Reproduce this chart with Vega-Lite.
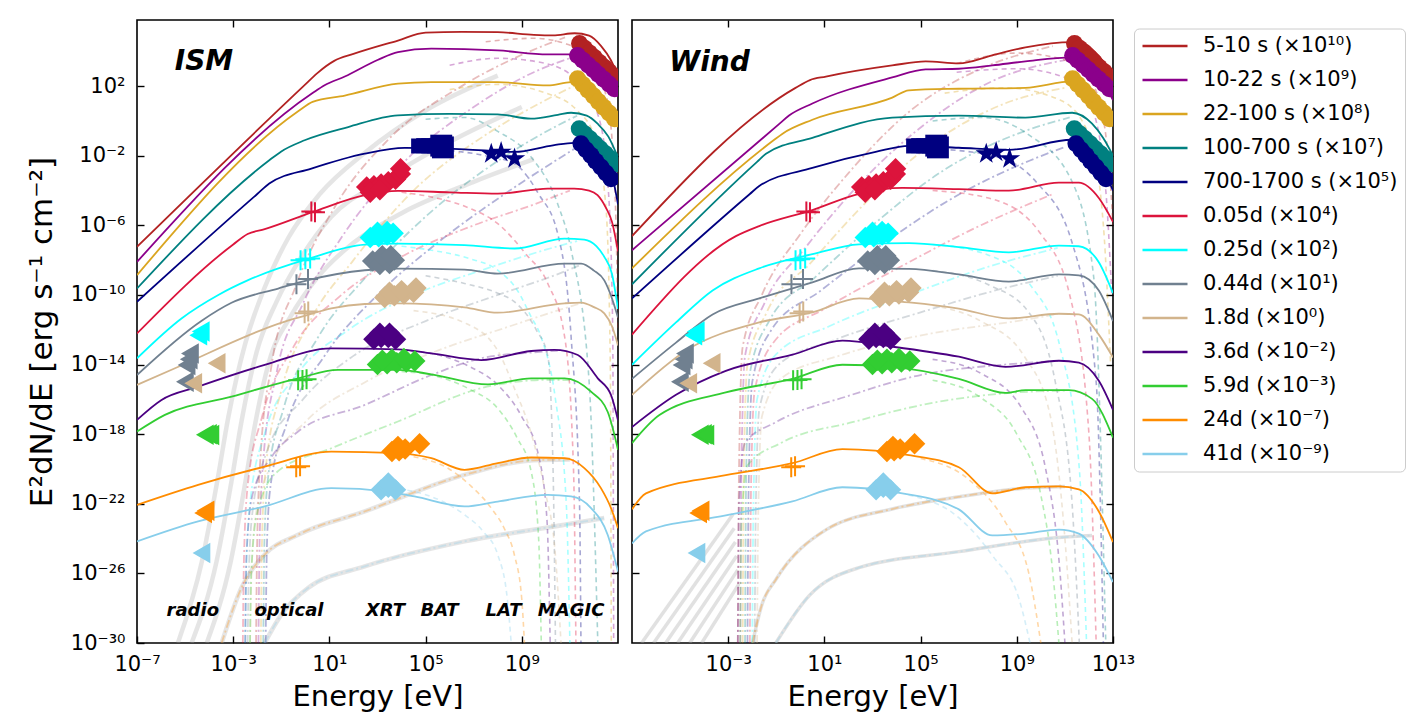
{
  "$schema": "https://vega.github.io/schema/vega-lite/v6.json",
  "background": "white",
  "padding": {"left": 25, "top": 18, "right": 0, "bottom": 0},
  "bounds": "flush",
  "spacing": 14,
  "config": {
    "font": "DejaVu Sans",
    "view": {"stroke": "black", "strokeWidth": 1.6},
    "axis": {"grid": false, "domain": false, "ticks": true, "tickSize": -7, "tickWidth": 1.4, "tickColor": "black",
      "labelFont": "DejaVu Sans", "labelFontSize": 21, "labelColor": "black", "labelFlush": false, "labelOverlap": false,
      "titleFont": "DejaVu Sans", "titleFontSize": 29, "titleFontWeight": "normal", "titleColor": "black"}
  },
  "datasets": {
    "ism_model": [
      {"epoch":"5-10 s","logE":-7,"logF":-7.23},{"epoch":"5-10 s","logE":0,"logF":2.1},{"epoch":"5-10 s","logE":0.5,"logF":2.75},{"epoch":"5-10 s","logE":1.2,"logF":3.45},{"epoch":"5-10 s","logE":2,"logF":3.85},{"epoch":"5-10 s","logE":3.85,"logF":4.62},{"epoch":"5-10 s","logE":5,"logF":5.08},{"epoch":"5-10 s","logE":6.5,"logF":5.12},{"epoch":"5-10 s","logE":8,"logF":5.1},{"epoch":"5-10 s","logE":9.5,"logF":4.95},{"epoch":"5-10 s","logE":10.3,"logF":4.92},{"epoch":"5-10 s","logE":11.2,"logF":5.04},{"epoch":"5-10 s","logE":11.8,"logF":4.9},{"epoch":"5-10 s","logE":12.3,"logF":4.3},{"epoch":"5-10 s","logE":12.7,"logF":3.5},{"epoch":"5-10 s","logE":13,"logF":2.6},
      {"epoch":"10-22 s","logE":-7,"logF":-8.1},{"epoch":"10-22 s","logE":0.3,"logF":1.6},{"epoch":"10-22 s","logE":0.8,"logF":2.05},{"epoch":"10-22 s","logE":1.64,"logF":2.55},{"epoch":"10-22 s","logE":3,"logF":3.5},{"epoch":"10-22 s","logE":3.85,"logF":3.96},{"epoch":"10-22 s","logE":5.24,"logF":4.15},{"epoch":"10-22 s","logE":8,"logF":4.05},{"epoch":"10-22 s","logE":10.08,"logF":3.82},{"epoch":"10-22 s","logE":11.05,"logF":3.82},{"epoch":"10-22 s","logE":11.8,"logF":3.6},{"epoch":"10-22 s","logE":12.3,"logF":3.0},{"epoch":"10-22 s","logE":12.7,"logF":2.2},{"epoch":"10-22 s","logE":13,"logF":1.5},
      {"epoch":"22-100 s","logE":-7,"logF":-8.86},{"epoch":"22-100 s","logE":-0.3,"logF":0.55},{"epoch":"22-100 s","logE":0.3,"logF":1.1},{"epoch":"22-100 s","logE":1.64,"logF":1.46},{"epoch":"22-100 s","logE":3.85,"logF":2.14},{"epoch":"22-100 s","logE":5.24,"logF":2.23},{"epoch":"22-100 s","logE":8,"logF":2.23},{"epoch":"22-100 s","logE":10.08,"logF":2.04},{"epoch":"22-100 s","logE":11.05,"logF":2.23},{"epoch":"22-100 s","logE":11.8,"logF":1.95},{"epoch":"22-100 s","logE":12.3,"logF":1.3},{"epoch":"22-100 s","logE":12.7,"logF":0.4},{"epoch":"22-100 s","logE":13,"logF":-0.35},
      {"epoch":"100-700 s","logE":-7,"logF":-9.63},{"epoch":"100-700 s","logE":-1.5,"logF":-2.26},{"epoch":"100-700 s","logE":-1,"logF":-1.75},{"epoch":"100-700 s","logE":-0.03,"logF":-1.11},{"epoch":"100-700 s","logE":1.78,"logF":-0.35},{"epoch":"100-700 s","logE":3.85,"logF":0.32},{"epoch":"100-700 s","logE":6,"logF":0.4},{"epoch":"100-700 s","logE":8,"logF":0.38},{"epoch":"100-700 s","logE":9.38,"logF":0.13},{"epoch":"100-700 s","logE":10.5,"logF":0.35},{"epoch":"100-700 s","logE":11.05,"logF":0.47},{"epoch":"100-700 s","logE":11.7,"logF":0.3},{"epoch":"100-700 s","logE":12.15,"logF":-0.16},{"epoch":"100-700 s","logE":12.6,"logF":-0.9},{"epoch":"100-700 s","logE":13,"logF":-2.1},
      {"epoch":"700-1700 s","logE":-7,"logF":-10.39},{"epoch":"700-1700 s","logE":-2,"logF":-4.2},{"epoch":"700-1700 s","logE":-1.5,"logF":-3.6},{"epoch":"700-1700 s","logE":0.25,"logF":-2.74},{"epoch":"700-1700 s","logE":2.47,"logF":-1.88},{"epoch":"700-1700 s","logE":4.13,"logF":-1.55},{"epoch":"700-1700 s","logE":6.62,"logF":-1.63},{"epoch":"700-1700 s","logE":8.7,"logF":-1.78},{"epoch":"700-1700 s","logE":10.3,"logF":-1.4},{"epoch":"700-1700 s","logE":11.18,"logF":-1.26},{"epoch":"700-1700 s","logE":11.8,"logF":-1.4},{"epoch":"700-1700 s","logE":12.15,"logF":-1.58},{"epoch":"700-1700 s","logE":12.5,"logF":-2.3},{"epoch":"700-1700 s","logE":12.75,"logF":-3.1},{"epoch":"700-1700 s","logE":13,"logF":-4.8},
      {"epoch":"0.05d","logE":-7,"logF":-12.21},{"epoch":"0.05d","logE":-3,"logF":-7.1},{"epoch":"0.05d","logE":-2.4,"logF":-6.5},{"epoch":"0.05d","logE":-1.69,"logF":-6.22},{"epoch":"0.05d","logE":0.32,"logF":-5.23},{"epoch":"0.05d","logE":2.47,"logF":-4.27},{"epoch":"0.05d","logE":3.85,"logF":-4.02},{"epoch":"0.05d","logE":6,"logF":-4.1},{"epoch":"0.05d","logE":8,"logF":-4.18},{"epoch":"0.05d","logE":10.08,"logF":-3.89},{"epoch":"0.05d","logE":11.18,"logF":-3.89},{"epoch":"0.05d","logE":11.8,"logF":-4.0},{"epoch":"0.05d","logE":12.15,"logF":-4.27},{"epoch":"0.05d","logE":12.5,"logF":-5.0},{"epoch":"0.05d","logE":12.75,"logF":-5.8},{"epoch":"0.05d","logE":13,"logF":-7.5},
      {"epoch":"0.25d","logE":-7,"logF":-13.64},{"epoch":"0.25d","logE":-5.15,"logF":-11.35},{"epoch":"0.25d","logE":-3.62,"logF":-10.0},{"epoch":"0.25d","logE":-2.38,"logF":-9.15},{"epoch":"0.25d","logE":0.04,"logF":-7.96},{"epoch":"0.25d","logE":2.47,"logF":-7.11},{"epoch":"0.25d","logE":3.85,"logF":-7.05},{"epoch":"0.25d","logE":6.62,"logF":-7.14},{"epoch":"0.25d","logE":8.7,"logF":-7.33},{"epoch":"0.25d","logE":10.78,"logF":-6.76},{"epoch":"0.25d","logE":11.6,"logF":-6.82},{"epoch":"0.25d","logE":12.1,"logF":-7.2},{"epoch":"0.25d","logE":12.43,"logF":-7.81},{"epoch":"0.25d","logE":12.75,"logF":-8.8},{"epoch":"0.25d","logE":13,"logF":-10.8},
      {"epoch":"0.44d","logE":-7,"logF":-14.6},{"epoch":"0.44d","logE":-4.31,"logF":-11.48},{"epoch":"0.44d","logE":-3.07,"logF":-10.45},{"epoch":"0.44d","logE":-1.13,"logF":-9.63},{"epoch":"0.44d","logE":0.11,"logF":-9.15},{"epoch":"0.44d","logE":2.47,"logF":-8.58},{"epoch":"0.44d","logE":3.85,"logF":-8.49},{"epoch":"0.44d","logE":6.62,"logF":-8.54},{"epoch":"0.44d","logE":8,"logF":-8.77},{"epoch":"0.44d","logE":10.78,"logF":-8.2},{"epoch":"0.44d","logE":11.47,"logF":-8.2},{"epoch":"0.44d","logE":12,"logF":-8.6},{"epoch":"0.44d","logE":12.43,"logF":-9.16},{"epoch":"0.44d","logE":12.75,"logF":-10.2},{"epoch":"0.44d","logE":13,"logF":-11.3},
      {"epoch":"1.8d","logE":-7,"logF":-15.17},{"epoch":"1.8d","logE":-5.42,"logF":-14.21},{"epoch":"1.8d","logE":-0.85,"logF":-11.53},{"epoch":"1.8d","logE":-0.03,"logF":-11.2},{"epoch":"1.8d","logE":1.08,"logF":-10.77},{"epoch":"1.8d","logE":2.47,"logF":-10.52},{"epoch":"1.8d","logE":3.85,"logF":-10.48},{"epoch":"1.8d","logE":6.62,"logF":-10.71},{"epoch":"1.8d","logE":8,"logF":-11.02},{"epoch":"1.8d","logE":10.78,"logF":-10.48},{"epoch":"1.8d","logE":11.47,"logF":-10.44},{"epoch":"1.8d","logE":12,"logF":-10.7},{"epoch":"1.8d","logE":12.43,"logF":-11.06},{"epoch":"1.8d","logE":12.75,"logF":-11.8},{"epoch":"1.8d","logE":13,"logF":-12.9},
      {"epoch":"3.6d","logE":-7,"logF":-17.18},{"epoch":"3.6d","logE":-5.98,"logF":-16.03},{"epoch":"3.6d","logE":-4.46,"logF":-15.27},{"epoch":"3.6d","logE":-1.69,"logF":-14.02},{"epoch":"3.6d","logE":1.08,"logF":-13.07},{"epoch":"3.6d","logE":3.85,"logF":-13.13},{"epoch":"3.6d","logE":5.24,"logF":-13.36},{"epoch":"3.6d","logE":7.31,"logF":-13.74},{"epoch":"3.6d","logE":9.39,"logF":-13.22},{"epoch":"3.6d","logE":10.36,"logF":-13.16},{"epoch":"3.6d","logE":11.33,"logF":-13.45},{"epoch":"3.6d","logE":12.16,"logF":-14.79},{"epoch":"3.6d","logE":12.71,"logF":-15.75},{"epoch":"3.6d","logE":13,"logF":-17.2},
      {"epoch":"5.9d","logE":-7,"logF":-17.85},{"epoch":"5.9d","logE":-5.84,"logF":-16.89},{"epoch":"5.9d","logE":-3.07,"logF":-15.84},{"epoch":"5.9d","logE":-0.3,"logF":-14.79},{"epoch":"5.9d","logE":1.36,"logF":-14.31},{"epoch":"5.9d","logE":3.85,"logF":-14.31},{"epoch":"5.9d","logE":5.24,"logF":-14.56},{"epoch":"5.9d","logE":7.59,"logF":-15.14},{"epoch":"5.9d","logE":9.39,"logF":-14.79},{"epoch":"5.9d","logE":10.78,"logF":-14.79},{"epoch":"5.9d","logE":11.88,"logF":-15.56},{"epoch":"5.9d","logE":12.57,"logF":-16.71},{"epoch":"5.9d","logE":13,"logF":-18.9},
      {"epoch":"24d","logE":-7,"logF":-22.06},{"epoch":"24d","logE":-4.46,"logF":-20.91},{"epoch":"24d","logE":-1.69,"logF":-19.86},{"epoch":"24d","logE":1.08,"logF":-19.0},{"epoch":"24d","logE":3.85,"logF":-19.09},{"epoch":"24d","logE":5.24,"logF":-19.38},{"epoch":"24d","logE":6.62,"logF":-20.05},{"epoch":"24d","logE":8,"logF":-19.66},{"epoch":"24d","logE":9.39,"logF":-19.34},{"epoch":"24d","logE":10.78,"logF":-19.38},{"epoch":"24d","logE":11.6,"logF":-19.95},{"epoch":"24d","logE":12.29,"logF":-21.1},{"epoch":"24d","logE":12.71,"logF":-22.25},{"epoch":"24d","logE":13,"logF":-23.4},
      {"epoch":"41d","logE":-7,"logF":-24.16},{"epoch":"41d","logE":-4.46,"logF":-23.01},{"epoch":"41d","logE":-1.69,"logF":-22.15},{"epoch":"41d","logE":1.08,"logF":-21.1},{"epoch":"41d","logE":3.43,"logF":-21.3},{"epoch":"41d","logE":4.54,"logF":-21.58},{"epoch":"41d","logE":6.62,"logF":-22.15},{"epoch":"41d","logE":8,"logF":-21.87},{"epoch":"41d","logE":10.08,"logF":-21.49},{"epoch":"41d","logE":11.05,"logF":-21.58},{"epoch":"41d","logE":11.88,"logF":-22.25},{"epoch":"41d","logE":12.57,"logF":-23.78},{"epoch":"41d","logE":13,"logF":-25.9}
    ],
    "wind_model": [
      {"epoch":"5-10 s","logE":-7,"logF":-6.62},{"epoch":"5-10 s","logE":-0.2,"logF":1.9},{"epoch":"5-10 s","logE":0.4,"logF":2.35},{"epoch":"5-10 s","logE":1.06,"logF":2.55},{"epoch":"5-10 s","logE":3.82,"logF":3.19},{"epoch":"5-10 s","logE":5.21,"logF":3.42},{"epoch":"5-10 s","logE":6.59,"logF":3.31},{"epoch":"5-10 s","logE":7.98,"logF":3.77},{"epoch":"5-10 s","logE":9.36,"logF":4.23},{"epoch":"5-10 s","logE":11.3,"logF":4.53},{"epoch":"5-10 s","logE":11.8,"logF":4.45},{"epoch":"5-10 s","logE":12.13,"logF":4.12},{"epoch":"5-10 s","logE":12.6,"logF":3.4},{"epoch":"5-10 s","logE":13,"logF":2.4},
      {"epoch":"10-22 s","logE":-7,"logF":-7.43},{"epoch":"10-22 s","logE":-0.9,"logF":-0.2},{"epoch":"10-22 s","logE":-0.47,"logF":0.31},{"epoch":"10-22 s","logE":0.5,"logF":1.0},{"epoch":"10-22 s","logE":3.82,"logF":2.5},{"epoch":"10-22 s","logE":5.21,"logF":2.96},{"epoch":"10-22 s","logE":6.59,"logF":3.0},{"epoch":"10-22 s","logE":7.98,"logF":3.19},{"epoch":"10-22 s","logE":9.36,"logF":3.42},{"epoch":"10-22 s","logE":11.3,"logF":3.65},{"epoch":"10-22 s","logE":12.13,"logF":2.96},{"epoch":"10-22 s","logE":12.6,"logF":2.2},{"epoch":"10-22 s","logE":13,"logF":1.2},
      {"epoch":"22-100 s","logE":-7,"logF":-8.47},{"epoch":"22-100 s","logE":-1.1,"logF":-1.1},{"epoch":"22-100 s","logE":-0.74,"logF":-0.73},{"epoch":"22-100 s","logE":0.5,"logF":0.07},{"epoch":"22-100 s","logE":3.82,"logF":1.34},{"epoch":"22-100 s","logE":4.51,"logF":1.76},{"epoch":"22-100 s","logE":6.59,"logF":1.85},{"epoch":"22-100 s","logE":9.36,"logF":1.9},{"epoch":"22-100 s","logE":11.3,"logF":2.27},{"epoch":"22-100 s","logE":12.13,"logF":1.58},{"epoch":"22-100 s","logE":12.6,"logF":0.8},{"epoch":"22-100 s","logE":13,"logF":-0.2},
      {"epoch":"100-700 s","logE":-7,"logF":-9.39},{"epoch":"100-700 s","logE":-1.8,"logF":-2.35},{"epoch":"100-700 s","logE":-1.43,"logF":-1.89},{"epoch":"100-700 s","logE":0.5,"logF":-0.97},{"epoch":"100-700 s","logE":3.82,"logF":0.19},{"epoch":"100-700 s","logE":6.59,"logF":0.3},{"epoch":"100-700 s","logE":9.36,"logF":0.19},{"epoch":"100-700 s","logE":11.3,"logF":0.47},{"epoch":"100-700 s","logE":12.13,"logF":-0.16},{"epoch":"100-700 s","logE":12.6,"logF":-1.0},{"epoch":"100-700 s","logE":13,"logF":-2.0},
      {"epoch":"700-1700 s","logE":-7,"logF":-10.2},{"epoch":"700-1700 s","logE":-2.1,"logF":-4.2},{"epoch":"700-1700 s","logE":-1.71,"logF":-3.74},{"epoch":"700-1700 s","logE":0.5,"logF":-2.7},{"epoch":"700-1700 s","logE":3.13,"logF":-1.78},{"epoch":"700-1700 s","logE":4.52,"logF":-1.43},{"epoch":"700-1700 s","logE":6.59,"logF":-1.54},{"epoch":"700-1700 s","logE":8.67,"logF":-1.66},{"epoch":"700-1700 s","logE":11.3,"logF":-1.08},{"epoch":"700-1700 s","logE":12.13,"logF":-1.66},{"epoch":"700-1700 s","logE":12.6,"logF":-2.8},{"epoch":"700-1700 s","logE":13,"logF":-4.0},
      {"epoch":"0.05d","logE":-7,"logF":-12.28},{"epoch":"0.05d","logE":-2.68,"logF":-6.62},{"epoch":"0.05d","logE":-1.71,"logF":-6.04},{"epoch":"0.05d","logE":0.5,"logF":-5.12},{"epoch":"0.05d","logE":2.44,"logF":-4.19},{"epoch":"0.05d","logE":4.24,"logF":-3.85},{"epoch":"0.05d","logE":6.59,"logF":-3.92},{"epoch":"0.05d","logE":8.67,"logF":-4.01},{"epoch":"0.05d","logE":10.75,"logF":-3.55},{"epoch":"0.05d","logE":11.58,"logF":-3.55},{"epoch":"0.05d","logE":12.41,"logF":-4.43},{"epoch":"0.05d","logE":13,"logF":-5.8},
      {"epoch":"0.25d","logE":-7,"logF":-14.01},{"epoch":"0.25d","logE":-5.17,"logF":-11.58},{"epoch":"0.25d","logE":-3.65,"logF":-9.74},{"epoch":"0.25d","logE":-1.71,"logF":-8.47},{"epoch":"0.25d","logE":0.5,"logF":-7.66},{"epoch":"0.25d","logE":2.44,"logF":-7.09},{"epoch":"0.25d","logE":4.52,"logF":-7.02},{"epoch":"0.25d","logE":6.59,"logF":-7.25},{"epoch":"0.25d","logE":8.67,"logF":-7.55},{"epoch":"0.25d","logE":10.75,"logF":-7.16},{"epoch":"0.25d","logE":11.58,"logF":-7.2},{"epoch":"0.25d","logE":12.41,"logF":-8.12},{"epoch":"0.25d","logE":13,"logF":-9.9},
      {"epoch":"0.44d","logE":-7,"logF":-14.82},{"epoch":"0.44d","logE":-5.17,"logF":-12.74},{"epoch":"0.44d","logE":-3.65,"logF":-11.12},{"epoch":"0.44d","logE":-1.71,"logF":-10.2},{"epoch":"0.44d","logE":0.5,"logF":-9.28},{"epoch":"0.44d","logE":2.44,"logF":-8.47},{"epoch":"0.44d","logE":4.52,"logF":-8.5},{"epoch":"0.44d","logE":6.59,"logF":-8.82},{"epoch":"0.44d","logE":8.67,"logF":-9.23},{"epoch":"0.44d","logE":10.75,"logF":-8.82},{"epoch":"0.44d","logE":11.58,"logF":-8.87},{"epoch":"0.44d","logE":12.41,"logF":-9.74},{"epoch":"0.44d","logE":13,"logF":-11.5},
      {"epoch":"1.8d","logE":-7,"logF":-15.74},{"epoch":"1.8d","logE":-4.76,"logF":-13.2},{"epoch":"1.8d","logE":-1.71,"logF":-11.58},{"epoch":"1.8d","logE":0.5,"logF":-11.0},{"epoch":"1.8d","logE":2.44,"logF":-10.2},{"epoch":"1.8d","logE":4.52,"logF":-10.43},{"epoch":"1.8d","logE":6.59,"logF":-10.78},{"epoch":"1.8d","logE":8.67,"logF":-11.35},{"epoch":"1.8d","logE":10.75,"logF":-11.08},{"epoch":"1.8d","logE":11.58,"logF":-11.12},{"epoch":"1.8d","logE":12.41,"logF":-12.28},{"epoch":"1.8d","logE":13,"logF":-13.6},
      {"epoch":"3.6d","logE":-7,"logF":-17.59},{"epoch":"3.6d","logE":-5.17,"logF":-15.74},{"epoch":"3.6d","logE":-3.1,"logF":-14.36},{"epoch":"3.6d","logE":-0.33,"logF":-13.43},{"epoch":"3.6d","logE":1.75,"logF":-12.63},{"epoch":"3.6d","logE":3.82,"logF":-12.97},{"epoch":"3.6d","logE":6.59,"logF":-13.55},{"epoch":"3.6d","logE":8.53,"logF":-14.13},{"epoch":"3.6d","logE":10.75,"logF":-13.78},{"epoch":"3.6d","logE":11.58,"logF":-13.89},{"epoch":"3.6d","logE":12.41,"logF":-14.93},{"epoch":"3.6d","logE":13,"logF":-16.6},
      {"epoch":"5.9d","logE":-7,"logF":-18.51},{"epoch":"5.9d","logE":-5.86,"logF":-16.9},{"epoch":"5.9d","logE":-3.1,"logF":-15.6},{"epoch":"5.9d","logE":-0.33,"logF":-14.82},{"epoch":"5.9d","logE":1.75,"logF":-14.01},{"epoch":"5.9d","logE":3.82,"logF":-14.13},{"epoch":"5.9d","logE":6.59,"logF":-14.82},{"epoch":"5.9d","logE":8.53,"logF":-15.63},{"epoch":"5.9d","logE":9.36,"logF":-15.47},{"epoch":"5.9d","logE":11.16,"logF":-15.47},{"epoch":"5.9d","logE":12.13,"logF":-15.97},{"epoch":"5.9d","logE":13,"logF":-18.2},
      {"epoch":"24d","logE":-7,"logF":-22.32},{"epoch":"24d","logE":-6.42,"logF":-21.4},{"epoch":"24d","logE":-3.1,"logF":-20.36},{"epoch":"24d","logE":-0.33,"logF":-19.67},{"epoch":"24d","logE":1.75,"logF":-18.86},{"epoch":"24d","logE":4.52,"logF":-19.21},{"epoch":"24d","logE":6.59,"logF":-19.9},{"epoch":"24d","logE":7.98,"logF":-21.4},{"epoch":"24d","logE":9.36,"logF":-21.05},{"epoch":"24d","logE":10.75,"logF":-21.0},{"epoch":"24d","logE":11.58,"logF":-21.17},{"epoch":"24d","logE":12.41,"logF":-22.44},{"epoch":"24d","logE":13,"logF":-24.2},
      {"epoch":"41d","logE":-7,"logF":-24.28},{"epoch":"41d","logE":-6.42,"logF":-23.59},{"epoch":"41d","logE":-3.1,"logF":-22.67},{"epoch":"41d","logE":-0.33,"logF":-21.86},{"epoch":"41d","logE":1.75,"logF":-21.05},{"epoch":"41d","logE":4.24,"logF":-21.4},{"epoch":"41d","logE":6.59,"logF":-22.32},{"epoch":"41d","logE":7.98,"logF":-23.82},{"epoch":"41d","logE":9.36,"logF":-23.71},{"epoch":"41d","logE":10.75,"logF":-23.48},{"epoch":"41d","logE":11.58,"logF":-23.71},{"epoch":"41d","logE":12.41,"logF":-24.98},{"epoch":"41d","logE":13,"logF":-26.5}
    ],
    "ism_sync": [
      {"epoch":"5-10 s","logE":-2.05,"logF":-30},{"epoch":"5-10 s","logE":-2,"logF":-24},{"epoch":"5-10 s","logE":-1.85,"logF":-19},{"epoch":"5-10 s","logE":-1.4,"logF":-14},{"epoch":"5-10 s","logE":-0.4,"logF":-9.5},{"epoch":"5-10 s","logE":1.2,"logF":-5},{"epoch":"5-10 s","logE":3.5,"logF":-1},{"epoch":"5-10 s","logE":6.5,"logF":2},{"epoch":"5-10 s","logE":9,"logF":3.8},{"epoch":"5-10 s","logE":10.8,"logF":4.8},
      {"epoch":"10-22 s","logE":-1.95,"logF":-30},{"epoch":"10-22 s","logE":-1.9,"logF":-24},{"epoch":"10-22 s","logE":-1.75,"logF":-19.5},{"epoch":"10-22 s","logE":-1.2,"logF":-14.5},{"epoch":"10-22 s","logE":-0.1,"logF":-10.5},{"epoch":"10-22 s","logE":1.6,"logF":-6.5},{"epoch":"10-22 s","logE":4,"logF":-2.5},{"epoch":"10-22 s","logE":7,"logF":0.8},{"epoch":"10-22 s","logE":9.5,"logF":2.8},{"epoch":"10-22 s","logE":11.2,"logF":3.7},
      {"epoch":"22-100 s","logE":-1.85,"logF":-30},{"epoch":"22-100 s","logE":-1.8,"logF":-24},{"epoch":"22-100 s","logE":-1.65,"logF":-20},{"epoch":"22-100 s","logE":-1,"logF":-15.5},{"epoch":"22-100 s","logE":0.2,"logF":-11.5},{"epoch":"22-100 s","logE":2,"logF":-8},{"epoch":"22-100 s","logE":4.5,"logF":-4},{"epoch":"22-100 s","logE":7.5,"logF":-0.8},{"epoch":"22-100 s","logE":10,"logF":1.2},{"epoch":"22-100 s","logE":11.3,"logF":2.1},
      {"epoch":"100-700 s","logE":-1.75,"logF":-30},{"epoch":"100-700 s","logE":-1.7,"logF":-24},{"epoch":"100-700 s","logE":-1.55,"logF":-20.5},{"epoch":"100-700 s","logE":-0.9,"logF":-16.5},{"epoch":"100-700 s","logE":0.5,"logF":-12.5},{"epoch":"100-700 s","logE":2.5,"logF":-9},{"epoch":"100-700 s","logE":5,"logF":-5.5},{"epoch":"100-700 s","logE":8,"logF":-2.3},{"epoch":"100-700 s","logE":10.3,"logF":-0.4},{"epoch":"100-700 s","logE":11.3,"logF":0.3},
      {"epoch":"700-1700 s","logE":-1.65,"logF":-30},{"epoch":"700-1700 s","logE":-1.6,"logF":-24.5},{"epoch":"700-1700 s","logE":-1.45,"logF":-21},{"epoch":"700-1700 s","logE":-0.8,"logF":-17.5},{"epoch":"700-1700 s","logE":0.8,"logF":-13.5},{"epoch":"700-1700 s","logE":3,"logF":-10},{"epoch":"700-1700 s","logE":5.5,"logF":-7},{"epoch":"700-1700 s","logE":8.5,"logF":-4},{"epoch":"700-1700 s","logE":10.5,"logF":-2.2},{"epoch":"700-1700 s","logE":11.3,"logF":-1.5},
      {"epoch":"0.05d","logE":-2.6,"logF":-30},{"epoch":"0.05d","logE":-2.55,"logF":-25},{"epoch":"0.05d","logE":-2.4,"logF":-21},{"epoch":"0.05d","logE":-1.8,"logF":-17},{"epoch":"0.05d","logE":-0.5,"logF":-13},{"epoch":"0.05d","logE":1.5,"logF":-10},{"epoch":"0.05d","logE":4,"logF":-7.8},{"epoch":"0.05d","logE":7,"logF":-6},{"epoch":"0.05d","logE":9.5,"logF":-4.8},{"epoch":"0.05d","logE":11,"logF":-4},
      {"epoch":"0.25d","logE":-2.5,"logF":-30},{"epoch":"0.25d","logE":-2.45,"logF":-25.5},{"epoch":"0.25d","logE":-2.3,"logF":-22},{"epoch":"0.25d","logE":-1.7,"logF":-18},{"epoch":"0.25d","logE":-0.3,"logF":-14.5},{"epoch":"0.25d","logE":1.8,"logF":-12},{"epoch":"0.25d","logE":4.5,"logF":-10},{"epoch":"0.25d","logE":7.5,"logF":-8.5},{"epoch":"0.25d","logE":10,"logF":-7.4},{"epoch":"0.25d","logE":11.3,"logF":-6.9},
      {"epoch":"0.44d","logE":-2.4,"logF":-30},{"epoch":"0.44d","logE":-2.35,"logF":-26},{"epoch":"0.44d","logE":-2.2,"logF":-22.5},{"epoch":"0.44d","logE":-1.6,"logF":-19},{"epoch":"0.44d","logE":-0.1,"logF":-16},{"epoch":"0.44d","logE":2,"logF":-13.5},{"epoch":"0.44d","logE":5,"logF":-11.5},{"epoch":"0.44d","logE":8,"logF":-10},{"epoch":"0.44d","logE":10.5,"logF":-8.8},{"epoch":"0.44d","logE":11.4,"logF":-8.3},
      {"epoch":"1.8d","logE":-2.3,"logF":-30},{"epoch":"1.8d","logE":-2.25,"logF":-26.5},{"epoch":"1.8d","logE":-2.1,"logF":-23},{"epoch":"1.8d","logE":-1.5,"logF":-20},{"epoch":"1.8d","logE":0,"logF":-17.3},{"epoch":"1.8d","logE":2.5,"logF":-15},{"epoch":"1.8d","logE":5.5,"logF":-13.2},{"epoch":"1.8d","logE":8.5,"logF":-11.8},{"epoch":"1.8d","logE":10.7,"logF":-10.8},{"epoch":"1.8d","logE":11.4,"logF":-10.5},
      {"epoch":"3.6d","logE":-2.5,"logF":-30},{"epoch":"3.6d","logE":-2.45,"logF":-25},{"epoch":"3.6d","logE":-2.2,"logF":-21.5},{"epoch":"3.6d","logE":-1.4,"logF":-19.3},{"epoch":"3.6d","logE":-0.3,"logF":-17.85},{"epoch":"3.6d","logE":2.47,"logF":-16.32},{"epoch":"3.6d","logE":5.24,"logF":-14.6},{"epoch":"3.6d","logE":7.31,"logF":-13.64},{"epoch":"3.6d","logE":9.5,"logF":-13.3},{"epoch":"3.6d","logE":10.5,"logF":-13.2},
      {"epoch":"5.9d","logE":-2.3,"logF":-30},{"epoch":"5.9d","logE":-2.25,"logF":-26},{"epoch":"5.9d","logE":-2,"logF":-22.5},{"epoch":"5.9d","logE":-1.2,"logF":-20.2},{"epoch":"5.9d","logE":1.08,"logF":-18.81},{"epoch":"5.9d","logE":3.85,"logF":-17.27},{"epoch":"5.9d","logE":7.31,"logF":-15.36},{"epoch":"5.9d","logE":10.08,"logF":-14.88},{"epoch":"5.9d","logE":11,"logF":-14.9},
      {"epoch":"24d","logE":-3.48,"logF":-30},{"epoch":"24d","logE":-2.66,"logF":-26.84},{"epoch":"24d","logE":-1.69,"logF":-24.92},{"epoch":"24d","logE":-0.3,"logF":-23.78},{"epoch":"24d","logE":2.47,"logF":-22.44},{"epoch":"24d","logE":6.62,"logF":-20.34},{"epoch":"24d","logE":9.5,"logF":-19.5},{"epoch":"24d","logE":11,"logF":-19.45},
      {"epoch":"41d","logE":-1.69,"logF":-30},{"epoch":"41d","logE":-1,"logF":-28.37},{"epoch":"41d","logE":0.11,"logF":-26.84},{"epoch":"41d","logE":2.47,"logF":-25.6},{"epoch":"41d","logE":6.62,"logF":-24.16},{"epoch":"41d","logE":10.78,"logF":-23.21},{"epoch":"41d","logE":12.43,"logF":-22.82}
    ],
    "ism_ssc": [
      {"epoch":"5-10 s","logE":7.5,"logF":4.55},{"epoch":"5-10 s","logE":9.5,"logF":4.75},{"epoch":"5-10 s","logE":10.8,"logF":4.45},{"epoch":"5-10 s","logE":11.8,"logF":3.6},{"epoch":"5-10 s","logE":12.4,"logF":2},{"epoch":"5-10 s","logE":12.75,"logF":-1},{"epoch":"5-10 s","logE":12.95,"logF":-8},{"epoch":"5-10 s","logE":13,"logF":-12},
      {"epoch":"10-22 s","logE":6,"logF":3.2},{"epoch":"10-22 s","logE":8,"logF":3.6},{"epoch":"10-22 s","logE":10,"logF":3.3},{"epoch":"10-22 s","logE":11.3,"logF":2.3},{"epoch":"10-22 s","logE":12.2,"logF":0.2},{"epoch":"10-22 s","logE":12.6,"logF":-4},{"epoch":"10-22 s","logE":12.78,"logF":-12},{"epoch":"10-22 s","logE":12.82,"logF":-30},
      {"epoch":"22-100 s","logE":6,"logF":1.8},{"epoch":"22-100 s","logE":8,"logF":2.1},{"epoch":"22-100 s","logE":10,"logF":1.6},{"epoch":"22-100 s","logE":11.3,"logF":0.6},{"epoch":"22-100 s","logE":12,"logF":-0.8},{"epoch":"22-100 s","logE":12.5,"logF":-5},{"epoch":"22-100 s","logE":12.68,"logF":-14},{"epoch":"22-100 s","logE":12.72,"logF":-30},
      {"epoch":"100-700 s","logE":5,"logF":0.1},{"epoch":"100-700 s","logE":6.6,"logF":0.2},{"epoch":"100-700 s","logE":8,"logF":-0.6},{"epoch":"100-700 s","logE":9.39,"logF":-2.08},{"epoch":"100-700 s","logE":10.5,"logF":-4.8},{"epoch":"100-700 s","logE":11.05,"logF":-7.4},{"epoch":"100-700 s","logE":11.8,"logF":-15},{"epoch":"100-700 s","logE":12.16,"logF":-30},
      {"epoch":"700-1700 s","logE":6,"logF":-1.7},{"epoch":"700-1700 s","logE":7.5,"logF":-2},{"epoch":"700-1700 s","logE":8.69,"logF":-2.45},{"epoch":"700-1700 s","logE":9.7,"logF":-4.2},{"epoch":"700-1700 s","logE":10.49,"logF":-6.47},{"epoch":"700-1700 s","logE":11.05,"logF":-12.4},{"epoch":"700-1700 s","logE":11.4,"logF":-22},{"epoch":"700-1700 s","logE":11.46,"logF":-30},
      {"epoch":"0.05d","logE":4,"logF":-4.1},{"epoch":"0.05d","logE":5.24,"logF":-4.37},{"epoch":"0.05d","logE":6.8,"logF":-5},{"epoch":"0.05d","logE":8,"logF":-5.9},{"epoch":"0.05d","logE":9.2,"logF":-7.7},{"epoch":"0.05d","logE":10.08,"logF":-9.34},{"epoch":"0.05d","logE":10.78,"logF":-12.4},{"epoch":"0.05d","logE":11.15,"logF":-20},{"epoch":"0.05d","logE":11.25,"logF":-30},
      {"epoch":"0.25d","logE":4,"logF":-7.2},{"epoch":"0.25d","logE":5.24,"logF":-7.43},{"epoch":"0.25d","logE":6.8,"logF":-7.9},{"epoch":"0.25d","logE":8,"logF":-8.58},{"epoch":"0.25d","logE":8.8,"logF":-9.7},{"epoch":"0.25d","logE":9.39,"logF":-11.26},{"epoch":"0.25d","logE":9.8,"logF":-12.4},{"epoch":"0.25d","logE":10.4,"logF":-16},{"epoch":"0.25d","logE":10.85,"logF":-22},{"epoch":"0.25d","logE":11,"logF":-30},
      {"epoch":"0.44d","logE":5,"logF":-8.9},{"epoch":"0.44d","logE":6.62,"logF":-9.34},{"epoch":"0.44d","logE":8,"logF":-9.9},{"epoch":"0.44d","logE":8.7,"logF":-10.4},{"epoch":"0.44d","logE":9.6,"logF":-12},{"epoch":"0.44d","logE":10.08,"logF":-13.5},{"epoch":"0.44d","logE":10.3,"logF":-20},{"epoch":"0.44d","logE":10.4,"logF":-30},
      {"epoch":"1.8d","logE":4.5,"logF":-10.9},{"epoch":"1.8d","logE":6.62,"logF":-11.6},{"epoch":"1.8d","logE":8,"logF":-13.2},{"epoch":"1.8d","logE":8.69,"logF":-15.36},{"epoch":"1.8d","logE":9.4,"logF":-18},{"epoch":"1.8d","logE":9.94,"logF":-21.1},{"epoch":"1.8d","logE":10.4,"logF":-25},{"epoch":"1.8d","logE":10.63,"logF":-30},
      {"epoch":"3.6d","logE":4,"logF":-13.2},{"epoch":"3.6d","logE":5.24,"logF":-13.36},{"epoch":"3.6d","logE":6.8,"logF":-14.1},{"epoch":"3.6d","logE":8,"logF":-15.17},{"epoch":"3.6d","logE":9,"logF":-17},{"epoch":"3.6d","logE":9.69,"logF":-19.19},{"epoch":"3.6d","logE":10.05,"logF":-23},{"epoch":"3.6d","logE":10.18,"logF":-30},
      {"epoch":"5.9d","logE":4,"logF":-14.4},{"epoch":"5.9d","logE":5.24,"logF":-14.6},{"epoch":"5.9d","logE":6.8,"logF":-15.4},{"epoch":"5.9d","logE":8,"logF":-16.52},{"epoch":"5.9d","logE":8.8,"logF":-18.2},{"epoch":"5.9d","logE":9.39,"logF":-20.15},{"epoch":"5.9d","logE":9.7,"logF":-24},{"epoch":"5.9d","logE":9.81,"logF":-30},
      {"epoch":"24d","logE":4.5,"logF":-19.3},{"epoch":"24d","logE":5.93,"logF":-19.96},{"epoch":"24d","logE":6.9,"logF":-21},{"epoch":"24d","logE":7.73,"logF":-22.25},{"epoch":"24d","logE":8.3,"logF":-23.5},{"epoch":"24d","logE":8.69,"logF":-24.93},{"epoch":"24d","logE":9,"logF":-27.5},{"epoch":"24d","logE":9.11,"logF":-30},
      {"epoch":"41d","logE":3.5,"logF":-21.1},{"epoch":"41d","logE":4.54,"logF":-21.3},{"epoch":"41d","logE":5.6,"logF":-21.8},{"epoch":"41d","logE":6.62,"logF":-22.63},{"epoch":"41d","logE":7.4,"logF":-23.6},{"epoch":"41d","logE":8,"logF":-24.93},{"epoch":"41d","logE":8.4,"logF":-27.5},{"epoch":"41d","logE":8.56,"logF":-30}
    ],
    "ism_gray": [
      {"curve":"g1","logE":-4.73,"logF":-30},{"curve":"g1","logE":-3.69,"logF":-25.3},{"curve":"g1","logE":-3.07,"logF":-20.7},{"curve":"g1","logE":-2.66,"logF":-17.3},{"curve":"g1","logE":-2.03,"logF":-13.3},{"curve":"g1","logE":-1.2,"logF":-10.4},{"curve":"g1","logE":-0.16,"logF":-7.8},{"curve":"g1","logE":1.08,"logF":-5.5},{"curve":"g1","logE":3.16,"logF":-3.5},{"curve":"g1","logE":6,"logF":-1.2},{"curve":"g1","logE":9,"logF":0.8},
      {"curve":"g2","logE":-4.1,"logF":-30},{"curve":"g2","logE":-3.1,"logF":-25.3},{"curve":"g2","logE":-2.5,"logF":-20.8},{"curve":"g2","logE":-2.1,"logF":-17.5},{"curve":"g2","logE":-1.5,"logF":-13.8},{"curve":"g2","logE":-0.6,"logF":-11.2},{"curve":"g2","logE":0.5,"logF":-9},{"curve":"g2","logE":2,"logF":-7},{"curve":"g2","logE":4,"logF":-5.3},{"curve":"g2","logE":7,"logF":-3.5},{"curve":"g2","logE":9.5,"logF":-2.2},
      {"curve":"g3","logE":-5.3,"logF":-30},{"curve":"g3","logE":-4.3,"logF":-25.3},{"curve":"g3","logE":-3.65,"logF":-20.6},{"curve":"g3","logE":-3.2,"logF":-17},{"curve":"g3","logE":-2.5,"logF":-12.8},{"curve":"g3","logE":-1.7,"logF":-9.6},{"curve":"g3","logE":-0.7,"logF":-6.7},{"curve":"g3","logE":0.6,"logF":-4.2},{"curve":"g3","logE":2.5,"logF":-1.8},{"curve":"g3","logE":5,"logF":0.6},{"curve":"g3","logE":8,"logF":2.6},
      {"curve":"g4","logE":-3.48,"logF":-30},{"curve":"g4","logE":-2.66,"logF":-26.84},{"curve":"g4","logE":-1.69,"logF":-24.92},{"curve":"g4","logE":-0.3,"logF":-23.78},{"curve":"g4","logE":2.47,"logF":-22.44},{"curve":"g4","logE":6.62,"logF":-20.34},{"curve":"g4","logE":9.5,"logF":-19.5},{"curve":"g4","logE":11,"logF":-19.45},
      {"curve":"g5","logE":-1.69,"logF":-30},{"curve":"g5","logE":-1,"logF":-28.37},{"curve":"g5","logE":0.11,"logF":-26.84},{"curve":"g5","logE":2.47,"logF":-25.6},{"curve":"g5","logE":6.62,"logF":-24.16},{"curve":"g5","logE":10.78,"logF":-23.21},{"curve":"g5","logE":12.43,"logF":-22.82}
    ],
    "wind_sync": [
      {"epoch":"5-10 s","logE":-2.6,"logF":-30},{"epoch":"5-10 s","logE":-2.55,"logF":-20},{"epoch":"5-10 s","logE":-2.4,"logF":-13},{"epoch":"5-10 s","logE":-1.6,"logF":-10},{"epoch":"5-10 s","logE":0,"logF":-6.5},{"epoch":"5-10 s","logE":2,"logF":-3},{"epoch":"5-10 s","logE":4.5,"logF":0.5},{"epoch":"5-10 s","logE":7.5,"logF":3},{"epoch":"5-10 s","logE":10.5,"logF":4.3},
      {"epoch":"10-22 s","logE":-2.5,"logF":-30},{"epoch":"10-22 s","logE":-2.45,"logF":-20},{"epoch":"10-22 s","logE":-2.3,"logF":-13.5},{"epoch":"10-22 s","logE":-1.5,"logF":-10.5},{"epoch":"10-22 s","logE":0.2,"logF":-7.3},{"epoch":"10-22 s","logE":2.2,"logF":-4},{"epoch":"10-22 s","logE":4.8,"logF":-0.6},{"epoch":"10-22 s","logE":8,"logF":2.3},{"epoch":"10-22 s","logE":11,"logF":3.5},
      {"epoch":"22-100 s","logE":-2.4,"logF":-30},{"epoch":"22-100 s","logE":-2.35,"logF":-20},{"epoch":"22-100 s","logE":-2.2,"logF":-14},{"epoch":"22-100 s","logE":-1.4,"logF":-11},{"epoch":"22-100 s","logE":0.4,"logF":-8.2},{"epoch":"22-100 s","logE":2.5,"logF":-5},{"epoch":"22-100 s","logE":5,"logF":-1.8},{"epoch":"22-100 s","logE":8.5,"logF":1},{"epoch":"22-100 s","logE":11,"logF":1.9},
      {"epoch":"100-700 s","logE":-2.3,"logF":-30},{"epoch":"100-700 s","logE":-2.25,"logF":-20},{"epoch":"100-700 s","logE":-2.1,"logF":-14.5},{"epoch":"100-700 s","logE":-1.3,"logF":-11.5},{"epoch":"100-700 s","logE":0.6,"logF":-9},{"epoch":"100-700 s","logE":3,"logF":-6},{"epoch":"100-700 s","logE":6,"logF":-2.8},{"epoch":"100-700 s","logE":9.5,"logF":-0.5},{"epoch":"100-700 s","logE":11.2,"logF":0.2},
      {"epoch":"700-1700 s","logE":-2.2,"logF":-30},{"epoch":"700-1700 s","logE":-2.15,"logF":-21},{"epoch":"700-1700 s","logE":-2,"logF":-15},{"epoch":"700-1700 s","logE":-1.2,"logF":-12},{"epoch":"700-1700 s","logE":0.8,"logF":-9.8},{"epoch":"700-1700 s","logE":3.5,"logF":-7},{"epoch":"700-1700 s","logE":6.5,"logF":-4.3},{"epoch":"700-1700 s","logE":9.5,"logF":-2.3},{"epoch":"700-1700 s","logE":11,"logF":-1.5},
      {"epoch":"0.05d","logE":-2.1,"logF":-30},{"epoch":"0.05d","logE":-2.05,"logF":-21},{"epoch":"0.05d","logE":-1.9,"logF":-15.5},{"epoch":"0.05d","logE":-1.1,"logF":-12.7},{"epoch":"0.05d","logE":1,"logF":-10.8},{"epoch":"0.05d","logE":4,"logF":-8.5},{"epoch":"0.05d","logE":7.5,"logF":-6},{"epoch":"0.05d","logE":10.5,"logF":-4.2},
      {"epoch":"0.25d","logE":-2,"logF":-30},{"epoch":"0.25d","logE":-1.95,"logF":-22},{"epoch":"0.25d","logE":-1.8,"logF":-16},{"epoch":"0.25d","logE":-1,"logF":-13.4},{"epoch":"0.25d","logE":1.2,"logF":-11.8},{"epoch":"0.25d","logE":4.5,"logF":-10},{"epoch":"0.25d","logE":8,"logF":-8.3},{"epoch":"0.25d","logE":10.7,"logF":-7.3},
      {"epoch":"0.44d","logE":-1.9,"logF":-30},{"epoch":"0.44d","logE":-1.85,"logF":-22},{"epoch":"0.44d","logE":-1.7,"logF":-16.5},{"epoch":"0.44d","logE":-0.9,"logF":-14},{"epoch":"0.44d","logE":1.4,"logF":-12.6},{"epoch":"0.44d","logE":5,"logF":-11},{"epoch":"0.44d","logE":8.5,"logF":-9.6},{"epoch":"0.44d","logE":10.7,"logF":-8.9},
      {"epoch":"1.8d","logE":-1.8,"logF":-30},{"epoch":"1.8d","logE":-1.75,"logF":-22.5},{"epoch":"1.8d","logE":-1.6,"logF":-17},{"epoch":"1.8d","logE":-0.8,"logF":-14.8},{"epoch":"1.8d","logE":1.6,"logF":-13.5},{"epoch":"1.8d","logE":5.5,"logF":-12.2},{"epoch":"1.8d","logE":9,"logF":-11.5},{"epoch":"1.8d","logE":10.7,"logF":-11.1},
      {"epoch":"3.6d","logE":-2.6,"logF":-30},{"epoch":"3.6d","logE":-2.55,"logF":-22},{"epoch":"3.6d","logE":-2.3,"logF":-18.5},{"epoch":"3.6d","logE":-1,"logF":-17.3},{"epoch":"3.6d","logE":2,"logF":-15.8},{"epoch":"3.6d","logE":5,"logF":-14.6},{"epoch":"3.6d","logE":8.5,"logF":-14},{"epoch":"3.6d","logE":10.7,"logF":-13.8},
      {"epoch":"5.9d","logE":-2.5,"logF":-30},{"epoch":"5.9d","logE":-2.45,"logF":-23},{"epoch":"5.9d","logE":-2.2,"logF":-19.8},{"epoch":"5.9d","logE":-0.8,"logF":-18.5},{"epoch":"5.9d","logE":2.2,"logF":-17.3},{"epoch":"5.9d","logE":5.5,"logF":-16.2},{"epoch":"5.9d","logE":9,"logF":-15.6},{"epoch":"5.9d","logE":11,"logF":-15.5},
      {"epoch":"24d","logE":-1.99,"logF":-30},{"epoch":"24d","logE":-1.6,"logF":-27.8},{"epoch":"24d","logE":-1.02,"logF":-26.36},{"epoch":"24d","logE":1.06,"logF":-23.5},{"epoch":"24d","logE":3.82,"logF":-22.3},{"epoch":"24d","logE":6.59,"logF":-21.6},{"epoch":"24d","logE":9.36,"logF":-21.1},{"epoch":"24d","logE":11,"logF":-21},
      {"epoch":"41d","logE":-1.02,"logF":-30},{"epoch":"41d","logE":0.36,"logF":-27.29},{"epoch":"41d","logE":2.44,"logF":-25.67},{"epoch":"41d","logE":6.59,"logF":-24.75},{"epoch":"41d","logE":10.75,"logF":-23.94},{"epoch":"41d","logE":12.13,"logF":-23.82}
    ],
    "wind_ssc": [
      {"epoch":"5-10 s","logE":6.5,"logF":3.3},{"epoch":"5-10 s","logE":9,"logF":3.9},{"epoch":"5-10 s","logE":11,"logF":3.5},{"epoch":"5-10 s","logE":12.2,"logF":2},{"epoch":"5-10 s","logE":12.8,"logF":-2},{"epoch":"5-10 s","logE":13,"logF":-6},
      {"epoch":"10-22 s","logE":6.5,"logF":2.8},{"epoch":"10-22 s","logE":9,"logF":3},{"epoch":"10-22 s","logE":11,"logF":2.5},{"epoch":"10-22 s","logE":12.1,"logF":0.8},{"epoch":"10-22 s","logE":12.7,"logF":-4},{"epoch":"10-22 s","logE":12.95,"logF":-10},
      {"epoch":"22-100 s","logE":6,"logF":1.6},{"epoch":"22-100 s","logE":8.5,"logF":1.9},{"epoch":"22-100 s","logE":10.8,"logF":1.2},{"epoch":"22-100 s","logE":12,"logF":-0.8},{"epoch":"22-100 s","logE":12.6,"logF":-6},{"epoch":"22-100 s","logE":12.9,"logF":-14},
      {"epoch":"100-700 s","logE":5.5,"logF":0},{"epoch":"100-700 s","logE":7.5,"logF":0.2},{"epoch":"100-700 s","logE":9.5,"logF":-0.8},{"epoch":"100-700 s","logE":11.3,"logF":-3.5},{"epoch":"100-700 s","logE":12.2,"logF":-9},{"epoch":"100-700 s","logE":12.7,"logF":-30},
      {"epoch":"700-1700 s","logE":5.5,"logF":-1.6},{"epoch":"700-1700 s","logE":8,"logF":-2},{"epoch":"700-1700 s","logE":9.8,"logF":-3.5},{"epoch":"700-1700 s","logE":11.3,"logF":-7},{"epoch":"700-1700 s","logE":12.3,"logF":-15},{"epoch":"700-1700 s","logE":12.6,"logF":-30},
      {"epoch":"0.05d","logE":5.5,"logF":-4},{"epoch":"0.05d","logE":8,"logF":-4.5},{"epoch":"0.05d","logE":10,"logF":-6.5},{"epoch":"0.05d","logE":11.2,"logF":-10},{"epoch":"0.05d","logE":12,"logF":-18},{"epoch":"0.05d","logE":12.3,"logF":-30},
      {"epoch":"0.25d","logE":5.5,"logF":-7.1},{"epoch":"0.25d","logE":7.8,"logF":-7.7},{"epoch":"0.25d","logE":9.6,"logF":-9.5},{"epoch":"0.25d","logE":10.8,"logF":-13},{"epoch":"0.25d","logE":11.6,"logF":-20},{"epoch":"0.25d","logE":11.9,"logF":-30},
      {"epoch":"0.44d","logE":5.5,"logF":-8.6},{"epoch":"0.44d","logE":7.8,"logF":-9.4},{"epoch":"0.44d","logE":9.5,"logF":-11},{"epoch":"0.44d","logE":10.6,"logF":-15},{"epoch":"0.44d","logE":11.3,"logF":-22},{"epoch":"0.44d","logE":11.6,"logF":-30},
      {"epoch":"1.8d","logE":5.5,"logF":-10.6},{"epoch":"1.8d","logE":7.5,"logF":-11.5},{"epoch":"1.8d","logE":9.3,"logF":-13.5},{"epoch":"1.8d","logE":10.4,"logF":-17},{"epoch":"1.8d","logE":11,"logF":-24},{"epoch":"1.8d","logE":11.3,"logF":-30},
      {"epoch":"3.6d","logE":5.5,"logF":-13.7},{"epoch":"3.6d","logE":7.5,"logF":-14.5},{"epoch":"3.6d","logE":9.2,"logF":-16.5},{"epoch":"3.6d","logE":10.2,"logF":-20},{"epoch":"3.6d","logE":10.8,"logF":-26},{"epoch":"3.6d","logE":11,"logF":-30},
      {"epoch":"5.9d","logE":5.5,"logF":-14.9},{"epoch":"5.9d","logE":7.5,"logF":-15.9},{"epoch":"5.9d","logE":9,"logF":-18},{"epoch":"5.9d","logE":10,"logF":-21.5},{"epoch":"5.9d","logE":10.5,"logF":-26},{"epoch":"5.9d","logE":10.75,"logF":-30},
      {"epoch":"24d","logE":5,"logF":-19.4},{"epoch":"24d","logE":7,"logF":-20.6},{"epoch":"24d","logE":8.5,"logF":-23},{"epoch":"24d","logE":9.5,"logF":-26},{"epoch":"24d","logE":10,"logF":-30},
      {"epoch":"41d","logE":4.5,"logF":-21.5},{"epoch":"41d","logE":6.5,"logF":-22.7},{"epoch":"41d","logE":8,"logF":-25},{"epoch":"41d","logE":9.1,"logF":-27.5},{"epoch":"41d","logE":9.55,"logF":-30}
    ],
    "wind_gray": [
      {"curve":"w1","logE":-6.6,"logF":-30},{"curve":"w1","logE":-2.8,"logF":-22.6},
      {"curve":"w2","logE":-6.1,"logF":-30},{"curve":"w2","logE":-2.75,"logF":-23.4},
      {"curve":"w3","logE":-5.6,"logF":-30},{"curve":"w3","logE":-2.7,"logF":-24.2},
      {"curve":"w4","logE":-5.1,"logF":-30},{"curve":"w4","logE":-2.65,"logF":-25},
      {"curve":"w5","logE":-4.6,"logF":-30},{"curve":"w5","logE":-2.6,"logF":-25.8},
      {"curve":"w6","logE":-4.1,"logF":-30},{"curve":"w6","logE":-2.55,"logF":-26.6},
      {"curve":"w7","logE":-1.99,"logF":-30},{"curve":"w7","logE":-1.6,"logF":-27.8},{"curve":"w7","logE":-1.02,"logF":-26.36},{"curve":"w7","logE":1.06,"logF":-23.5},{"curve":"w7","logE":3.82,"logF":-22.3},{"curve":"w7","logE":6.59,"logF":-21.6},{"curve":"w7","logE":9.36,"logF":-21.1},{"curve":"w7","logE":11,"logF":-21},
      {"curve":"w8","logE":-1.02,"logF":-30},{"curve":"w8","logE":0.36,"logF":-27.29},{"curve":"w8","logE":2.44,"logF":-25.67},{"curve":"w8","logE":6.59,"logF":-24.75},{"curve":"w8","logE":10.75,"logF":-23.94},{"curve":"w8","logE":12.13,"logF":-23.82}
    ],
    "markers": [
      {"epoch":"5-10 s","kind":"magic","logE":11.4,"logF":4.45},{"epoch":"5-10 s","kind":"magic","logE":11.61,"logF":4.18},{"epoch":"5-10 s","kind":"magic","logE":11.81,"logF":3.91},{"epoch":"5-10 s","kind":"magic","logE":12.02,"logF":3.64},{"epoch":"5-10 s","kind":"magic","logE":12.23,"logF":3.36},{"epoch":"5-10 s","kind":"magic","logE":12.43,"logF":3.09},{"epoch":"5-10 s","kind":"magic","logE":12.64,"logF":2.82},{"epoch":"5-10 s","kind":"magic","logE":12.85,"logF":2.55},
      {"epoch":"10-22 s","kind":"magic","logE":11.32,"logF":3.76},{"epoch":"10-22 s","kind":"magic","logE":11.54,"logF":3.49},{"epoch":"10-22 s","kind":"magic","logE":11.76,"logF":3.21},{"epoch":"10-22 s","kind":"magic","logE":11.98,"logF":2.94},{"epoch":"10-22 s","kind":"magic","logE":12.19,"logF":2.67},{"epoch":"10-22 s","kind":"magic","logE":12.41,"logF":2.4},{"epoch":"10-22 s","kind":"magic","logE":12.63,"logF":2.12},{"epoch":"10-22 s","kind":"magic","logE":12.85,"logF":1.85},
      {"epoch":"22-100 s","kind":"magic","logE":11.32,"logF":2.42},{"epoch":"22-100 s","kind":"magic","logE":11.54,"logF":2.09},{"epoch":"22-100 s","kind":"magic","logE":11.76,"logF":1.77},{"epoch":"22-100 s","kind":"magic","logE":11.98,"logF":1.44},{"epoch":"22-100 s","kind":"magic","logE":12.19,"logF":1.11},{"epoch":"22-100 s","kind":"magic","logE":12.41,"logF":0.78},{"epoch":"22-100 s","kind":"magic","logE":12.63,"logF":0.46},{"epoch":"22-100 s","kind":"magic","logE":12.85,"logF":0.13},
      {"epoch":"100-700 s","kind":"magic","logE":11.39,"logF":-0.45},{"epoch":"100-700 s","kind":"magic","logE":11.61,"logF":-0.74},{"epoch":"100-700 s","kind":"magic","logE":11.83,"logF":-1.02},{"epoch":"100-700 s","kind":"magic","logE":12.05,"logF":-1.31},{"epoch":"100-700 s","kind":"magic","logE":12.26,"logF":-1.6},{"epoch":"100-700 s","kind":"magic","logE":12.48,"logF":-1.89},{"epoch":"100-700 s","kind":"magic","logE":12.7,"logF":-2.17},{"epoch":"100-700 s","kind":"magic","logE":12.92,"logF":-2.46},
      {"epoch":"700-1700 s","kind":"magic","logE":11.46,"logF":-1.31},{"epoch":"700-1700 s","kind":"magic","logE":11.67,"logF":-1.65},{"epoch":"700-1700 s","kind":"magic","logE":11.88,"logF":-1.98},{"epoch":"700-1700 s","kind":"magic","logE":12.08,"logF":-2.32},{"epoch":"700-1700 s","kind":"magic","logE":12.29,"logF":-2.65},{"epoch":"700-1700 s","kind":"magic","logE":12.5,"logF":-2.99},{"epoch":"700-1700 s","kind":"magic","logE":12.71,"logF":-3.32},
      {"epoch":"700-1700 s","kind":"xrt_sq","logE":4.71,"logF":-1.44},{"epoch":"700-1700 s","kind":"xrt_sq","logE":4.92,"logF":-1.42},{"epoch":"700-1700 s","kind":"xrt_sq","logE":5.13,"logF":-1.43},{"epoch":"700-1700 s","kind":"xrt_sq","logE":5.34,"logF":-1.45},
      {"epoch":"700-1700 s","kind":"bat_sq","logE":5.65,"logF":-1.42},{"epoch":"700-1700 s","kind":"bat_sq","logE":5.72,"logF":-1.52},
      {"epoch":"700-1700 s","kind":"lat","logE":7.73,"logF":-1.89},{"epoch":"700-1700 s","kind":"lat","logE":8.14,"logF":-1.79},{"epoch":"700-1700 s","kind":"lat","logE":8.7,"logF":-2.17},
      {"epoch":"0.05d","kind":"optical","logE":0.25,"logF":-5.2},{"epoch":"0.05d","kind":"optical","logE":0.4,"logF":-5.25},
      {"epoch":"0.25d","kind":"optical","logE":-0.2,"logF":-8.0},{"epoch":"0.25d","kind":"optical","logE":0.0,"logF":-7.95},{"epoch":"0.25d","kind":"optical","logE":0.2,"logF":-7.9},
      {"epoch":"0.44d","kind":"optical","logE":-0.37,"logF":-9.38},{"epoch":"0.44d","kind":"optical","logE":0.11,"logF":-9.09},
      {"epoch":"1.8d","kind":"optical","logE":-0.03,"logF":-11.05},{"epoch":"1.8d","kind":"optical","logE":0.12,"logF":-10.95},
      {"epoch":"5.9d","kind":"optical","logE":-0.3,"logF":-14.9},{"epoch":"5.9d","kind":"optical","logE":-0.12,"logF":-14.88},{"epoch":"5.9d","kind":"optical","logE":0.05,"logF":-14.85},
      {"epoch":"24d","kind":"optical","logE":-0.38,"logF":-19.9},{"epoch":"24d","kind":"optical","logE":-0.22,"logF":-19.85},
      {"epoch":"0.25d","kind":"radio","logE":-4.45,"logF":-12.31},{"epoch":"0.25d","kind":"radio","logE":-4.35,"logF":-12.1},
      {"epoch":"0.44d","kind":"radio","logE":-4.8,"logF":-13.36},{"epoch":"0.44d","kind":"radio","logE":-4.85,"logF":-13.7},{"epoch":"0.44d","kind":"radio","logE":-4.94,"logF":-14.03},{"epoch":"0.44d","kind":"radio","logE":-5.01,"logF":-14.99},
      {"epoch":"1.8d","kind":"radio","logE":-3.69,"logF":-13.93},{"epoch":"1.8d","kind":"radio","logE":-4.66,"logF":-15.08},
      {"epoch":"5.9d","kind":"radio","logE":-4.18,"logF":-18.04},{"epoch":"5.9d","kind":"radio","logE":-4.05,"logF":-18.0},{"epoch":"5.9d","kind":"radio","logE":-3.95,"logF":-18.05},
      {"epoch":"24d","kind":"radio","logE":-4.25,"logF":-22.53},{"epoch":"24d","kind":"radio","logE":-4.15,"logF":-22.4},
      {"epoch":"41d","kind":"radio","logE":-4.32,"logF":-24.83},
      {"epoch":"0.05d","kind":"xrt","logE":2.55,"logF":-3.8},{"epoch":"0.05d","kind":"xrt","logE":2.85,"logF":-3.72},{"epoch":"0.05d","kind":"xrt","logE":3.15,"logF":-3.62},{"epoch":"0.05d","kind":"xrt","logE":3.45,"logF":-3.5},{"epoch":"0.05d","kind":"xrt","logE":3.75,"logF":-3.35},{"epoch":"0.05d","kind":"xrt","logE":3.95,"logF":-3.05},{"epoch":"0.05d","kind":"xrt","logE":3.96,"logF":-2.75},{"epoch":"0.05d","kind":"xrt","logE":2.7,"logF":-4.1},{"epoch":"0.05d","kind":"xrt","logE":3.1,"logF":-3.95},
      {"epoch":"0.25d","kind":"xrt","logE":2.7,"logF":-6.7},{"epoch":"0.25d","kind":"xrt","logE":3.05,"logF":-6.65},{"epoch":"0.25d","kind":"xrt","logE":3.4,"logF":-6.55},{"epoch":"0.25d","kind":"xrt","logE":3.65,"logF":-6.45},{"epoch":"0.25d","kind":"xrt","logE":3.0,"logF":-6.4},{"epoch":"0.25d","kind":"xrt","logE":3.4,"logF":-6.35},
      {"epoch":"0.44d","kind":"xrt","logE":2.8,"logF":-8.05},{"epoch":"0.44d","kind":"xrt","logE":3.1,"logF":-7.95},{"epoch":"0.44d","kind":"xrt","logE":3.4,"logF":-7.95},{"epoch":"0.44d","kind":"xrt","logE":3.7,"logF":-8.0},{"epoch":"0.44d","kind":"xrt","logE":3.1,"logF":-8.25},{"epoch":"0.44d","kind":"xrt","logE":3.5,"logF":-8.2},{"epoch":"0.44d","kind":"xrt","logE":3.2,"logF":-7.75},{"epoch":"0.44d","kind":"xrt","logE":3.55,"logF":-7.75},
      {"epoch":"1.8d","kind":"xrt","logE":3.3,"logF":-10.15},{"epoch":"1.8d","kind":"xrt","logE":3.7,"logF":-10.05},{"epoch":"1.8d","kind":"xrt","logE":4.1,"logF":-9.95},{"epoch":"1.8d","kind":"xrt","logE":4.5,"logF":-9.85},{"epoch":"1.8d","kind":"xrt","logE":4.6,"logF":-9.6},{"epoch":"1.8d","kind":"xrt","logE":3.5,"logF":-9.85},{"epoch":"1.8d","kind":"xrt","logE":4.0,"logF":-9.75},
      {"epoch":"3.6d","kind":"xrt","logE":2.85,"logF":-12.55},{"epoch":"3.6d","kind":"xrt","logE":3.15,"logF":-12.45},{"epoch":"3.6d","kind":"xrt","logE":3.45,"logF":-12.45},{"epoch":"3.6d","kind":"xrt","logE":3.75,"logF":-12.55},{"epoch":"3.6d","kind":"xrt","logE":3.1,"logF":-12.2},{"epoch":"3.6d","kind":"xrt","logE":3.5,"logF":-12.2},
      {"epoch":"5.9d","kind":"xrt","logE":3.0,"logF":-14.0},{"epoch":"5.9d","kind":"xrt","logE":3.4,"logF":-13.95},{"epoch":"5.9d","kind":"xrt","logE":3.8,"logF":-13.9},{"epoch":"5.9d","kind":"xrt","logE":4.2,"logF":-13.85},{"epoch":"5.9d","kind":"xrt","logE":4.55,"logF":-13.8},{"epoch":"5.9d","kind":"xrt","logE":3.6,"logF":-13.7},{"epoch":"5.9d","kind":"xrt","logE":4.1,"logF":-13.65},{"epoch":"5.9d","kind":"xrt","logE":3.2,"logF":-13.75},
      {"epoch":"24d","kind":"xrt","logE":3.6,"logF":-19.0},{"epoch":"24d","kind":"xrt","logE":3.9,"logF":-18.95},{"epoch":"24d","kind":"xrt","logE":4.15,"logF":-18.85},{"epoch":"24d","kind":"xrt","logE":3.85,"logF":-18.7},{"epoch":"24d","kind":"xrt","logE":4.75,"logF":-18.55},
      {"epoch":"41d","kind":"xrt","logE":3.15,"logF":-21.2},{"epoch":"41d","kind":"xrt","logE":3.45,"logF":-21.05},{"epoch":"41d","kind":"xrt","logE":3.75,"logF":-21.2},{"epoch":"41d","kind":"xrt","logE":3.45,"logF":-20.8}
    ],
    "bands": [
      {"band":"radio","logE":-4.68,"logF":-28.46},{"band":"optical","logE":-0.68,"logF":-28.46},{"band":"XRT","logE":3.33,"logF":-28.46},{"band":"BAT","logE":5.58,"logF":-28.46},{"band":"LAT","logE":8.24,"logF":-28.46},{"band":"MAGIC","logE":11.05,"logF":-28.46}
    ]
  },
  "resolve": {"scale": {"color": "shared", "stroke": "shared"}, "legend": {"color": "shared"}},
  "hconcat": [
    {
      "width": 481, "height": 623,
      "encoding": {
        "x": {"field": "logE", "type": "quantitative", "scale": {"domain": [-7, 13], "nice": false, "zero": false}, "axis": null},
        "y": {"field": "logF", "type": "quantitative", "scale": {"domain": [-30, 5.8], "nice": false, "zero": false}, "axis": null}
      },
      "layer": [
        {"data": {"name": "ism_gray"},
         "mark": {"type": "line", "color": "#a8a8a8", "strokeWidth": 4.5, "opacity": 0.3, "interpolate": "monotone", "clip": true},
         "encoding": {
           "detail": {"field": "curve"},
           "x": {"field": "logE", "type": "quantitative", "scale": {"domain": [-7, 13], "nice": false, "zero": false},
             "axis": {"orient": "bottom", "values": [-7, -3, 1, 5, 9], "labelExpr": "'10' + ['⁻⁷','⁻³','¹','⁵','⁹','¹³'][(datum.value + 7) / 4]", "title": "Energy [eV]", "labelPadding": 17, "titlePadding": 8}},
           "y": {"field": "logF", "type": "quantitative", "scale": {"domain": [-30, 5.8], "nice": false, "zero": false},
             "axis": {"orient": "left", "values": [-30, -26, -22, -18, -14, -10, -6, -2, 2], "labelExpr": "'10' + ['⁻³⁰','⁻²⁶','⁻²²','⁻¹⁸','⁻¹⁴','⁻¹⁰','⁻⁶','⁻²','²'][(datum.value + 30) / 4]", "title": "E²dN/dE [erg s⁻¹ cm⁻²]", "titleFontSize": 31, "labelPadding": 19, "titlePadding": 12}}
         }},
        {"data": {"name": "ism_sync"},
         "mark": {"type": "line", "strokeWidth": 1.8, "opacity": 0.3, "strokeDash": [8, 3, 2, 3], "interpolate": "monotone", "clip": true},
         "encoding": {"stroke": {"field": "epoch", "type": "nominal", "legend": null,
           "scale": {"domain": ["41d","24d","5.9d","3.6d","1.8d","0.44d","0.25d","0.05d","700-1700 s","100-700 s","22-100 s","10-22 s","5-10 s"],
                     "range": ["#87ceeb","#ff8c00","#32cd32","#4b0082","#d2b48c","#708090","#00ffff","#dc143c","#000080","#008080","#daa520","#8b008b","#b22222"]}}}},
        {"data": {"name": "ism_ssc"},
         "mark": {"type": "line", "strokeWidth": 1.6, "opacity": 0.35, "strokeDash": [5, 4], "interpolate": "monotone", "clip": true},
         "encoding": {"stroke": {"field": "epoch", "type": "nominal", "legend": null}}},
        {"data": {"name": "ism_model"},
         "mark": {"type": "line", "strokeWidth": 1.8, "interpolate": "monotone", "clip": true},
         "encoding": {"color": {"field": "epoch", "type": "nominal",
           "scale": {"domain": ["5-10 s","10-22 s","22-100 s","100-700 s","700-1700 s","0.05d","0.25d","0.44d","1.8d","3.6d","5.9d","24d","41d"],
                     "range": ["#b22222","#8b008b","#daa520","#008080","#000080","#dc143c","#00ffff","#708090","#d2b48c","#4b0082","#32cd32","#ff8c00","#87ceeb"]},
           "legend": {"orient": "none", "legendX": 997, "legendY": 8.5, "title": null,
             "symbolType": "M-2.5,0L2.5,0", "symbolSize": 324, "symbolStrokeWidth": 2.5, "symbolOffset": 13.5,
             "labelOffset": 27.4, "labelFont": "DejaVu Sans", "labelFontSize": 21, "labelColor": "black", "labelLimit": 400,
             "rowPadding": 12, "padding": 7, "strokeColor": "#cccccc", "fillColor": "white", "cornerRadius": 5,
             "labelExpr": "datum.label + ' (×10' + ['¹⁰','⁹','⁸','⁷','⁵','⁴','²','¹','⁰','⁻²','⁻³','⁻⁷','⁻⁹'][indexof(['5-10 s','10-22 s','22-100 s','100-700 s','700-1700 s','0.05d','0.25d','0.44d','1.8d','3.6d','5.9d','24d','41d'], datum.label)] + ')'"}}}},
        {"data": {"name": "markers"}, "transform": [{"filter": "datum.kind === 'magic'"}],
         "mark": {"type": "point", "shape": "circle", "filled": true, "size": 290, "opacity": 1, "clip": true},
         "encoding": {"color": {"field": "epoch", "type": "nominal"}}},
        {"data": {"name": "markers"}, "transform": [{"filter": "datum.kind === 'xrt_sq'"}],
         "mark": {"type": "point", "shape": "square", "filled": true, "size": 225, "opacity": 1, "clip": true},
         "encoding": {"color": {"field": "epoch", "type": "nominal"}}},
        {"data": {"name": "markers"}, "transform": [{"filter": "datum.kind === 'bat_sq'"}],
         "mark": {"type": "point", "shape": "square", "filled": true, "size": 480, "opacity": 1, "clip": true},
         "encoding": {"color": {"field": "epoch", "type": "nominal"}}},
        {"data": {"name": "markers"}, "transform": [{"filter": "datum.kind === 'lat'"}],
         "mark": {"type": "point", "shape": "M0,-1L0.2245,-0.309L0.9511,-0.309L0.3633,0.118L0.5878,0.809L0,0.382L-0.5878,0.809L-0.3633,0.118L-0.9511,-0.309L-0.2245,-0.309Z", "filled": true, "size": 500, "opacity": 1, "clip": true},
         "encoding": {"color": {"field": "epoch", "type": "nominal"}}},
        {"data": {"name": "markers"}, "transform": [{"filter": "datum.kind === 'optical'"}],
         "mark": {"type": "point", "shape": "M-1,0L1,0M0,-1L0,1", "filled": false, "strokeWidth": 2, "size": 400, "opacity": 1, "clip": true},
         "encoding": {"color": {"field": "epoch", "type": "nominal"}}},
        {"data": {"name": "markers"}, "transform": [{"filter": "datum.kind === 'radio'"}],
         "mark": {"type": "point", "shape": "triangle-left", "filled": true, "size": 420, "opacity": 1, "clip": true},
         "encoding": {"color": {"field": "epoch", "type": "nominal"}}},
        {"data": {"name": "markers"}, "transform": [{"filter": "datum.kind === 'xrt'"}],
         "mark": {"type": "point", "shape": "diamond", "filled": true, "size": 460, "opacity": 1, "clip": true},
         "encoding": {"color": {"field": "epoch", "type": "nominal"}}},
        {"data": {"name": "bands"},
         "mark": {"type": "text", "align": "center", "baseline": "alphabetic", "font": "DejaVu Sans", "fontSize": 18, "fontWeight": "bold", "fontStyle": "italic", "color": "black"},
         "encoding": {"text": {"field": "band"}}},
        {"data": {"values": [{"panel": "ISM", "logE": -5.43, "logF": 2.9}]},
         "mark": {"type": "text", "align": "left", "baseline": "alphabetic", "font": "DejaVu Sans", "fontSize": 28, "fontWeight": "bold", "fontStyle": "italic", "color": "black"},
         "encoding": {
           "text": {"field": "panel"},
           "x": {"field": "logE", "type": "quantitative", "scale": {"domain": [-7, 13], "nice": false, "zero": false},
             "axis": {"orient": "top", "values": [-3, 1, 5, 9], "labels": false, "title": null}},
           "y": {"field": "logF", "type": "quantitative", "scale": {"domain": [-30, 5.8], "nice": false, "zero": false},
             "axis": {"orient": "right", "values": [-26, -22, -18, -14, -10, -6, -2, 2], "labels": false, "title": null}}
         }}
      ],
      "resolve": {"axis": {"x": "independent", "y": "independent"}}
    },
    {
      "width": 481, "height": 623,
      "encoding": {
        "x": {"field": "logE", "type": "quantitative", "scale": {"domain": [-7, 13], "nice": false, "zero": false}, "axis": null},
        "y": {"field": "logF", "type": "quantitative", "scale": {"domain": [-30, 5.8], "nice": false, "zero": false}, "axis": null}
      },
      "layer": [
        {"data": {"name": "wind_gray"},
         "mark": {"type": "line", "color": "#a8a8a8", "strokeWidth": 3.5, "opacity": 0.35, "interpolate": "monotone", "clip": true},
         "encoding": {
           "detail": {"field": "curve"},
           "x": {"field": "logE", "type": "quantitative", "scale": {"domain": [-7, 13], "nice": false, "zero": false},
             "axis": {"orient": "bottom", "values": [-3, 1, 5, 9, 13], "labelExpr": "'10' + ['⁻⁷','⁻³','¹','⁵','⁹','¹³'][(datum.value + 7) / 4]", "title": "Energy [eV]", "labelPadding": 17, "titlePadding": 8}},
           "y": {"field": "logF", "type": "quantitative", "scale": {"domain": [-30, 5.8], "nice": false, "zero": false},
             "axis": {"orient": "left", "values": [-26, -22, -18, -14, -10, -6, -2, 2], "labels": false, "title": null}}
         }},
        {"data": {"name": "wind_sync"},
         "mark": {"type": "line", "strokeWidth": 1.8, "opacity": 0.3, "strokeDash": [8, 3, 2, 3], "interpolate": "monotone", "clip": true},
         "encoding": {"stroke": {"field": "epoch", "type": "nominal", "legend": null}}},
        {"data": {"name": "wind_ssc"},
         "mark": {"type": "line", "strokeWidth": 1.6, "opacity": 0.35, "strokeDash": [5, 4], "interpolate": "monotone", "clip": true},
         "encoding": {"stroke": {"field": "epoch", "type": "nominal", "legend": null}}},
        {"data": {"name": "wind_model"},
         "mark": {"type": "line", "strokeWidth": 1.8, "interpolate": "monotone", "clip": true},
         "encoding": {"color": {"field": "epoch", "type": "nominal"}}},
        {"data": {"name": "markers"}, "transform": [{"filter": "datum.kind === 'magic'"}],
         "mark": {"type": "point", "shape": "circle", "filled": true, "size": 290, "opacity": 1, "clip": true},
         "encoding": {"color": {"field": "epoch", "type": "nominal"}}},
        {"data": {"name": "markers"}, "transform": [{"filter": "datum.kind === 'xrt_sq'"}],
         "mark": {"type": "point", "shape": "square", "filled": true, "size": 225, "opacity": 1, "clip": true},
         "encoding": {"color": {"field": "epoch", "type": "nominal"}}},
        {"data": {"name": "markers"}, "transform": [{"filter": "datum.kind === 'bat_sq'"}],
         "mark": {"type": "point", "shape": "square", "filled": true, "size": 480, "opacity": 1, "clip": true},
         "encoding": {"color": {"field": "epoch", "type": "nominal"}}},
        {"data": {"name": "markers"}, "transform": [{"filter": "datum.kind === 'lat'"}],
         "mark": {"type": "point", "shape": "M0,-1L0.2245,-0.309L0.9511,-0.309L0.3633,0.118L0.5878,0.809L0,0.382L-0.5878,0.809L-0.3633,0.118L-0.9511,-0.309L-0.2245,-0.309Z", "filled": true, "size": 500, "opacity": 1, "clip": true},
         "encoding": {"color": {"field": "epoch", "type": "nominal"}}},
        {"data": {"name": "markers"}, "transform": [{"filter": "datum.kind === 'optical'"}],
         "mark": {"type": "point", "shape": "M-1,0L1,0M0,-1L0,1", "filled": false, "strokeWidth": 2, "size": 400, "opacity": 1, "clip": true},
         "encoding": {"color": {"field": "epoch", "type": "nominal"}}},
        {"data": {"name": "markers"}, "transform": [{"filter": "datum.kind === 'radio'"}],
         "mark": {"type": "point", "shape": "triangle-left", "filled": true, "size": 420, "opacity": 1, "clip": true},
         "encoding": {"color": {"field": "epoch", "type": "nominal"}}},
        {"data": {"name": "markers"}, "transform": [{"filter": "datum.kind === 'xrt'"}],
         "mark": {"type": "point", "shape": "diamond", "filled": true, "size": 460, "opacity": 1, "clip": true},
         "encoding": {"color": {"field": "epoch", "type": "nominal"}}},
        {"data": {"values": [{"panel": "Wind", "logE": -5.45, "logF": 2.87}]},
         "mark": {"type": "text", "align": "left", "baseline": "alphabetic", "font": "DejaVu Sans", "fontSize": 28, "fontWeight": "bold", "fontStyle": "italic", "color": "black"},
         "encoding": {
           "text": {"field": "panel"},
           "x": {"field": "logE", "type": "quantitative", "scale": {"domain": [-7, 13], "nice": false, "zero": false},
             "axis": {"orient": "top", "values": [-3, 1, 5, 9], "labels": false, "title": null}},
           "y": {"field": "logF", "type": "quantitative", "scale": {"domain": [-30, 5.8], "nice": false, "zero": false},
             "axis": {"orient": "right", "values": [-26, -22, -18, -14, -10, -6, -2, 2], "labels": false, "title": null}}
         }}
      ],
      "resolve": {"axis": {"x": "independent", "y": "independent"}}
    }
  ]
}
